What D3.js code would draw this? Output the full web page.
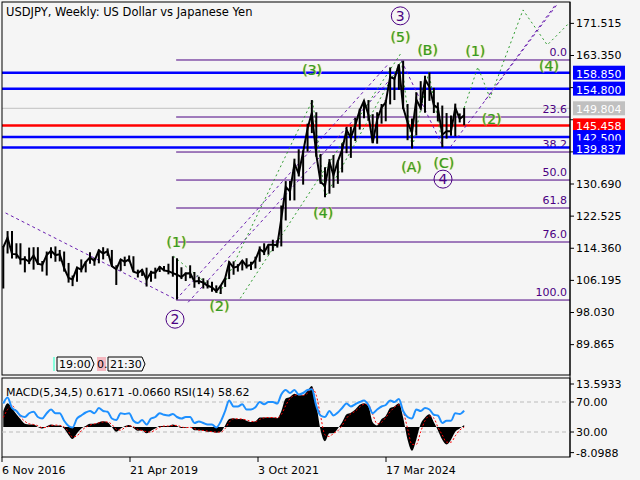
<!DOCTYPE html>
<html><head><meta charset="utf-8">
<script src="https://cdn.jsdelivr.net/npm/d3@7"></script>
<style>body{margin:0;background:#fff}svg{font-family:"DejaVu Sans",sans-serif}</style>
</head><body><svg id="c" width="640" height="480"></svg>
<script>
const closes=[114.5,116.9,
112.8,112.7,111.4,111.5,110.8,112.4,110.3,110.0,112.5,113.6,112.5,112.7,
109.2,106.7,106.3,109.3,108.8,110.7,111.9,111.0,113.7,112.9,113.5,109.7,
108.9,111.4,110.8,111.4,108.3,107.9,108.7,106.3,108.1,108.0,109.5,108.6,
108.4,107.9,107.5,106.9,107.8,107.9,105.8,105.9,105.5,104.7,104.3,103.3,
104.7,106.6,110.7,109.3,109.6,111.1,109.7,110.0,111.3,114.0,113.2,115.1,
115.1,115.0,121.7,129.8,128.7,135.7,133.2,138.7,144.7,148.7,138.0,131.1,
130.1,136.2,132.8,136.3,139.3,144.3,142.3,145.5,149.3,151.7,148.2,141.0,
146.9,150.0,151.3,157.8,157.3,160.9,150.0,146.2,143.6,152.0,149.8,157.2,
155.2,150.6,149.9,143.1,144.0,144.0,149.9,147.1,148.0];
const highs=[114.8,118.6,
118.6,115.5,115.5,112.2,114.4,114.5,114.5,111.0,113.4,114.5,114.7,113.8,
113.4,110.5,107.3,109.5,111.4,110.9,113.2,111.8,113.9,114.5,114.2,113.8,
109.9,111.5,112.1,112.4,112.2,108.8,109.0,109.3,108.5,109.3,109.7,109.7,
110.3,112.2,111.7,109.4,108.1,109.9,108.2,107.0,106.6,106.1,105.7,104.8,
104.9,106.7,110.9,110.9,110.2,111.1,111.7,110.8,112.1,114.7,115.5,115.2,
116.4,116.3,125.1,131.3,131.3,137.0,139.4,139.1,145.9,151.9,148.8,138.2,
134.8,136.9,137.9,136.6,140.9,145.1,145.1,147.4,149.7,151.7,151.9,148.3,
148.8,150.9,151.9,160.2,157.7,161.0,161.9,150.9,147.2,153.9,156.7,158.1,
158.9,155.0,151.3,150.5,148.6,148.0,151.0,148.5,149.9];
const lows=[104.0,112.9,
111.6,111.6,110.1,108.1,110.2,108.8,110.0,108.3,107.3,111.7,110.8,110.9,
108.3,105.5,104.6,105.7,108.1,108.1,110.3,109.8,110.4,111.4,112.3,109.6,
104.9,108.5,109.7,110.8,108.3,106.8,107.2,104.5,105.7,106.5,108.2,108.4,
107.6,107.0,101.2,106.4,105.9,106.6,104.2,105.1,104.0,104.0,103.2,102.9,
102.6,104.4,106.4,107.5,108.3,108.6,109.1,108.7,109.1,110.8,112.5,112.6,
113.5,114.4,114.7,121.3,126.4,126.4,132.5,130.4,138.8,143.5,137.5,130.6,
127.2,128.1,129.6,130.6,133.5,138.4,137.2,141.5,144.4,147.3,146.7,140.9,
140.8,145.9,146.5,150.8,151.9,154.5,149.6,141.7,139.6,142.9,149.5,148.7,
151.7,148.6,146.5,139.9,142.1,142.8,142.7,146.2,145.5];
const macd=[5,7.5,
6,4,2.5,1,0.8,0.8,0,-0.5,0.2,0.8,0.5,0.5,
-0.5,-2.5,-3.8,-2,-0.5,0.3,1,1,1.5,1.8,1.5,0,
-1.5,-0.5,0.2,0.6,-0.3,-1.2,-1,-2,-1.2,-0.5,0.3,0.3,
0.3,0.8,0.3,-0.3,-0.2,0,-1,-1,-1.2,-1.5,-1.5,-1.8,
-1.5,0.5,2.5,2.8,2.5,2.5,2,1.6,1.8,3,3,3,
3,2.8,5,9,9.5,10.5,10,10,11.5,13,7,-1,
-4.5,-2,-2,-0.5,1.5,4,4.5,5.5,7,7.5,6.5,1.5,
0.5,2.5,3.5,6,6.5,7.5,3,-4,-7.5,-4,1,3,
4,1.5,-1,-4,-5.5,-4,-1.5,-0.5,0.6];
const signal=[3,5.5,
6.8,5,3.2,1.8,1,0.8,0.4,-0.2,-0.1,0.5,0.6,0.5,
0,-1.5,-3.2,-2.8,-1.2,-0.1,0.6,1,1.3,1.6,1.6,0.8,
-0.7,-1,-0.2,0.4,0.1,-0.8,-1.1,-1.5,-1.6,-0.9,-0.1,0.3,
0.3,0.5,0.5,0,-0.2,-0.1,-0.5,-1,-1.1,-1.3,-1.5,-1.6,
-1.6,-0.5,1.5,2.6,2.6,2.5,2.2,1.8,1.7,2.4,2.9,3,
3,2.9,3.9,6.8,9,10,10.2,10,10.7,12.2,10,3.5,
-2.5,-3,-2,-1.2,0.5,2.8,4.2,5,6.3,7.2,7,4,
1,1.5,3,4.8,6.2,7,5,-0.5,-5.5,-5.5,-1.5,2,
3.5,2.8,0,-2.5,-4.8,-4.8,-2.8,-1,-0.07];
const rsi=[68,76,
62,58,52,50,55,57,50,48,55,60,55,55,
45,38,36,48,52,56,58,55,62,58,57,48,
46,55,54,55,45,42,46,40,48,50,55,53,
52,54,50,48,50,50,42,44,42,40,40,36,
44,58,72,64,64,67,60,60,63,70,67,70,
70,68,80,86,82,86,80,82,86,87,65,52,
50,58,52,56,62,68,64,67,70,72,66,55,
60,64,66,72,70,74,58,50,48,60,58,62,
60,53,52,42,45,45,55,54,58.6];
const priceTicks=[171.515,163.350,155.185,147.020,138.855,130.690,122.525,114.360,106.195,98.030,89.865];
const blueLevels=[158.850,154.800,142.500,139.837];
const redLevel=145.458, grayLevel=149.804;
const fibLabels=["0.0","23.6","38.2","50.0","61.8","76.0","100.0"];
const fibPrices=[162.08,147.59,138.69,131.57,124.46,115.82,101.07];
const dateTicks=["2016-11-06","2019-04-21","2021-10-03","2024-03-17"];
const dateTickLabels=["6 Nov 2016","21 Apr 2019","3 Oct 2021","17 Mar 2024"];
const waveLabels=[["(1)","2020-03-10",115.8,"g"],["(2)","2021-01-05",99.55,"g"],["2","2020-03-01",96.2,"c"],
["(3)","2022-10-15",159.5,"g"],["(4)","2023-01-01",123.2,"g"],["(5)","2024-06-25",167.9,"g"],["3","2024-06-25",173.3,"c"],
["(B)","2025-01-01",164.6,"g"],["(A)","2024-09-10",134.9,"g"],["(C)","2025-04-25",135.9,"g"],["4","2025-04-20",131.8,"c"],
["(1)","2025-12-01",164.4,"g"],["(2)","2026-03-25",147.1,"g"],["(4)","2027-04-30",160.5,"g"]];
const greenWave=[["2020-02-20",112.2],["2021-01-05",102.6],["2022-10-20",151.9],["2023-01-15",127.2],["2024-07-03",161.9]];
const abcWave=[["2024-07-03",161.9],["2024-09-16",139.6],["2025-01-10",158.9],["2025-04-21",139.9]];
const purpleWave=[["2024-07-03",161.9],["2025-04-21",139.9]];
const downTrend=[["2016-12-01",123.2],["2020-03-09",101.2]];
const channel1=[["2020-03-09",101.2],["2024-04-01",161.0]];
const channel2=[["2020-06-01",100.5],["2024-06-01",159.0]];
const channelG=[["2021-06-01",101.5],["2024-07-03",164.0]];
const projG=[["2025-09-15",149.9],["2025-12-20",160.3],["2026-03-15",152.4],["2026-11-01",174.8],["2027-04-20",165.9],["2027-10-10",172.2]];
const projP1=[["2025-06-10",139.96],["2027-06-25",176.06]];
const projP2=[["2026-02-10",151.9],["2027-06-15",176.06]];

const svg=d3.select("#c");
const P=d=>d3.timeParse("%Y-%m-%d")(d);
const months=d3.timeMonth.range(new Date(2016,10,1),new Date(2025,8,2)).map(d=>d3.timeDay.offset(d,14));
const n=Math.min(months.length,closes.length);
const x=d3.scaleTime().domain([P("2016-11-06"),P("2024-03-17")]).range([2,386]);
const y=d3.scaleLinear().domain([98.03,163.35]).range([312,55]);
const ym=d3.scaleLinear().domain([0,13.5933]).range([427,384]);
const yr=d3.scaleLinear().domain([30,70]).range([432,402]);
svg.append("rect").attr("width",640).attr("height",480).attr("fill","#f5f5f5");
const defs=svg.append("defs");
defs.append("clipPath").attr("id","cm").append("rect").attr("x",2).attr("y",2).attr("width",568).attr("height",373);
defs.append("clipPath").attr("id","cb").append("rect").attr("x",2).attr("y",378).attr("width",568).attr("height",79);
const m=svg.append("g").attr("clip-path","url(#cm)");
const hl=(p,c,w,x0)=>m.append("line").attr("x1",x0||0).attr("x2",570).attr("y1",y(p)).attr("y2",y(p)).attr("stroke",c).attr("stroke-width",w);
hl(grayLevel,"#c0c0c0",1);
fibPrices.forEach((p,i)=>{hl(p,"#4b0082",1,x(P("2020-03-09")));
 m.append("text").attr("x",567).attr("y",y(p)-4).attr("text-anchor","end").attr("font-size",11).attr("fill","#4b0082").text(fibLabels[i]);});
blueLevels.forEach(p=>hl(p,"#0000ff",2.5));
hl(redLevel,"#ff0000",2.5);
const ln=d3.line().x(d=>x(P(d[0]))).y(d=>y(d[1]));
const path=(pts,c,dash)=>m.append("path").attr("d",ln(pts)).attr("fill","none").attr("stroke",c).attr("stroke-width",1).attr("stroke-dasharray",dash);
path(downTrend,"#6a1fb0","3,3");
path(channel1,"#6a1fb0","3,3");path(channel2,"#6a1fb0","3,3");path(channelG,"#2e9b2e","2,3");
path(greenWave,"#2e9b2e","2,3");path(abcWave,"#2e9b2e","2,3");path(purpleWave,"#6a1fb0","3,3");
path(projG,"#2e9b2e","2,3");path(projP1,"#6a1fb0","3,3");path(projP2,"#6a1fb0","3,3");
const idx=d3.range(n);
m.selectAll(".hl").data(idx).enter().append("line").attr("x1",i=>x(months[i])).attr("x2",i=>x(months[i]))
 .attr("y1",i=>y(highs[i])).attr("y2",i=>y(lows[i])).attr("stroke","#000").attr("stroke-width",2);
m.append("path").attr("d",d3.line().x(i=>x(months[i])).y(i=>y(closes[i]))(idx)).attr("fill","none").attr("stroke","#000").attr("stroke-width",2);
waveLabels.forEach(([t,d,p,k])=>{
 const X=x(P(d)),Y=y(p);
 if(k==="c"){m.append("circle").attr("cx",X).attr("cy",Y).attr("r",9).attr("fill","none").attr("stroke","#4b0082");
  m.append("text").attr("x",X).attr("y",Y+5).attr("text-anchor","middle").attr("font-size",14).attr("fill","#4b0082").text(t);}
 else{m.append("text").attr("x",X+1).attr("y",Y+5).attr("text-anchor","middle").attr("font-size",14).attr("fill","#e0d040").text(t);
  m.append("text").attr("x",X).attr("y",Y+5).attr("text-anchor","middle").attr("font-size",14).attr("fill","#2e9b2e").text(t);}
});
const tg=svg.append("g").attr("font-size",11);
tg.append("rect").attr("x",53).attr("y",357).attr("width",2).attr("height",14).attr("fill","#8fd");
tg.append("path").attr("d","M57,357h34l3,7l-3,7h-34z").attr("fill","#f5f5f5").attr("stroke","#000");
tg.append("text").attr("x",59).attr("y",368).text("19:00");
tg.append("rect").attr("x",97).attr("y",357).attr("width",9).attr("height",14).attr("fill","#f4b8c0");
tg.append("text").attr("x",97).attr("y",368).text("0.");
tg.append("path").attr("d","M108,357h34l3,7l-3,7h-34z").attr("fill","#f5f5f5").attr("stroke","#000");
tg.append("text").attr("x",110).attr("y",368).text("21:30");
svg.append("rect").attr("x",2).attr("y",2).attr("width",568).attr("height",373).attr("fill","none").attr("stroke","#000");
svg.append("rect").attr("x",2).attr("y",378).attr("width",568).attr("height",79).attr("fill","none").attr("stroke","#000");
svg.append("text").attr("x",6).attr("y",16).attr("font-size",11.5).text("USDJPY, Weekly:  US Dollar vs Japanese Yen");
const hidden=[155.185,147.020,138.855];
const ax=svg.append("g").attr("transform","translate(570,0)");
ax.call(d3.axisRight(y).tickValues(priceTicks).tickFormat(d=>hidden.includes(d)?"":d3.format(".3f")(d)).tickSize(4).tickSizeOuter(0));
ax.select(".domain").remove();
ax.selectAll("text").attr("font-size",11).attr("font-family","DejaVu Sans").attr("fill","#000").attr("x",6);
const box=(p,c)=>{svg.append("rect").attr("x",573).attr("y",y(p)-7).attr("width",52).attr("height",14).attr("fill",c);
 svg.append("text").attr("x",576).attr("y",y(p)+5).attr("font-size",11).attr("fill","#fff").text(d3.format(".3f")(p));};
box(grayLevel,"#c0c0c0");box(redLevel,"#ff0000");blueLevels.forEach(p=>box(p,"#0000ff"));
const b=svg.append("g").attr("clip-path","url(#cb)");
[70,30].forEach(v=>b.append("line").attr("x1",2).attr("x2",570).attr("y1",yr(v)).attr("y2",yr(v)).attr("stroke","#bbb").attr("stroke-dasharray","4,3"));
b.append("path").attr("d",d3.area().x(i=>x(months[i])).y0(ym(0)).y1(i=>ym(macd[i])).curve(d3.curveMonotoneX)(idx)).attr("fill","#000");
b.append("path").attr("d",d3.line().x(i=>x(months[i])).y(i=>ym(signal[i])).curve(d3.curveMonotoneX)(idx)).attr("fill","none").attr("stroke","#ff0000").attr("stroke-dasharray","2,2");
b.append("path").attr("d",d3.line().x(i=>x(months[i])).y(i=>yr(rsi[i])).curve(d3.curveMonotoneX)(idx)).attr("fill","none").attr("stroke","#1e90ff").attr("stroke-width",2);
svg.append("text").attr("x",6).attr("y",396).attr("font-size",11).text("MACD(5,34,5) 0.6171 -0.0660 RSI(14) 58.62");
const lowLab=[["13.5933",ym(13.5933)],["70.00",yr(70)],["30.00",yr(30)],["-8.0988",ym(-8.0988)]];
lowLab.forEach(([t,v])=>{svg.append("line").attr("x1",570).attr("x2",574).attr("y1",v).attr("y2",v).attr("stroke","#000");
 svg.append("text").attr("x",576).attr("y",v+4).attr("font-size",11).text(t);});
svg.append("line").attr("x1",570).attr("x2",570).attr("y1",2).attr("y2",457).attr("stroke","#000");
dateTicks.forEach((d,i)=>{const X=x(P(d));
 svg.append("line").attr("x1",X).attr("x2",X).attr("y1",457).attr("y2",462).attr("stroke","#000");
 svg.append("text").attr("x",X).attr("y",474).attr("font-size",11).text(dateTickLabels[i]);});
</script></body></html>
